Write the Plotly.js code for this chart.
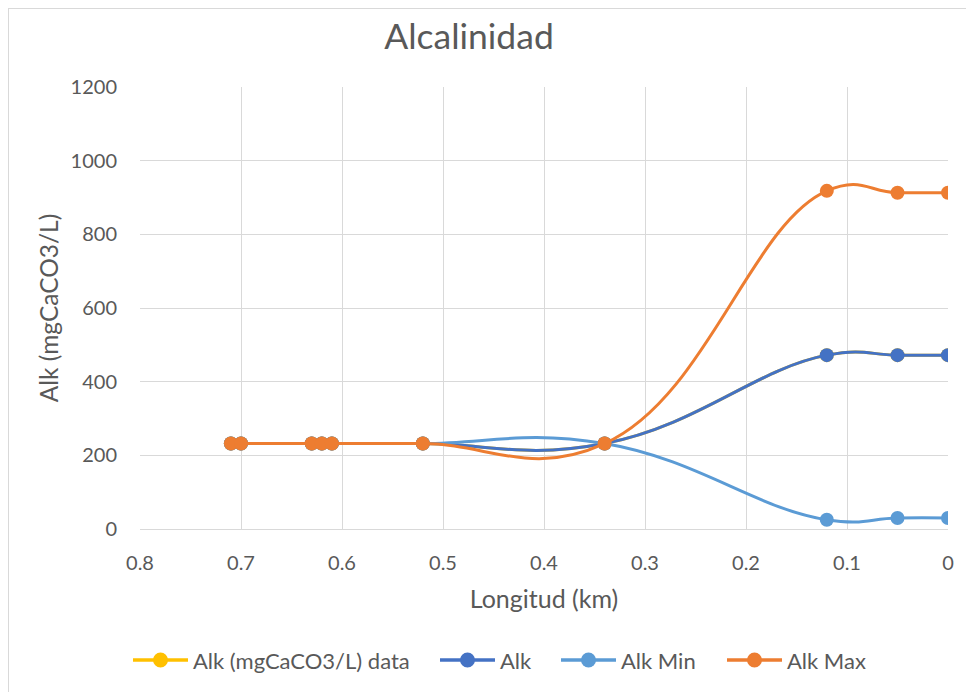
<!DOCTYPE html>
<html>
<head>
<meta charset="utf-8">
<script src="https://cdn.plot.ly/plotly-3.0.1.min.js"></script>
<style>
  html, body { margin: 0; padding: 0; background: #ffffff; overflow: hidden; }
  #frame { position: absolute; left: 8px; top: 8px; width: 1200px; height: 1200px;
           border: 1px solid #d9d9d9; box-sizing: border-box; }
  #chart { position: absolute; left: 0; top: 0; width: 966px; height: 692px; }
</style>
</head>
<body>
<div id="frame"></div>
<div id="chart"></div>
<script>
// Distance along the stream (km) and alkalinity (mg CaCO3/L)
const longitud = [0.71, 0.70, 0.63, 0.62, 0.61, 0.52, 0.34, 0.12, 0.05, 0.0];
const alkData  = [232, 232, 232, 232, 232, 232, 232, 472, 472, 472];
const alk      = [232, 232, 232, 232, 232, 232, 232, 472, 472, 472];
const alkMin   = [232, 232, 232, 232, 232, 232, 232, 25, 30, 30];
const alkMax   = [232, 232, 232, 232, 232, 232, 232, 918, 913, 913];

const seriesNames  = ['Alk (mgCaCO3/L) data', 'Alk', 'Alk Min', 'Alk Max'];
const seriesValues = [alkData, alk, alkMin, alkMax];
const seriesColors = ['#FFC000', '#4472C4', '#5B9BD5', '#ED7D31'];

const FONT = 'Lato, "Open Sans", sans-serif';
const TEXT = '#595959';
const GRID = '#d9d9d9';

// Plot area in pixels (margins below) used to place the bottom key
const W = 966, H = 692;
const M = { l: 140, r: 18, t: 87, b: 163 };
const PW = W - M.l - M.r, PH = H - M.t - M.b;
const px = v => (v - M.l) / PW;           // pixel x -> paper x
const py = v => (H - M.b - v) / PH;       // pixel y -> paper y

const traces = seriesNames.map((name, i) => ({
  type: 'scatter',
  mode: 'lines+markers',
  name: name,
  x: longitud,
  y: seriesValues[i],
  line: { color: seriesColors[i], width: 3, shape: 'spline', smoothing: 1.3 },
  marker: { color: seriesColors[i], size: 14 },
  showlegend: false
}));

// Bottom key: long line sample with a dot in the middle, then the series name
const keyStart = [133, 440, 561, 727];
const keyY = 660, keyLen = 55, keyR = 7.5;
const shapes = [];
const annotations = [];
seriesNames.forEach((name, i) => {
  const x0 = keyStart[i], xc = x0 + keyLen / 2;
  shapes.push({
    type: 'line', xref: 'paper', yref: 'paper',
    x0: px(x0), x1: px(x0 + keyLen), y0: py(keyY), y1: py(keyY),
    line: { color: seriesColors[i], width: 3.5 }
  });
  shapes.push({
    type: 'circle', xref: 'paper', yref: 'paper',
    x0: px(xc - keyR), x1: px(xc + keyR), y0: py(keyY + keyR), y1: py(keyY - keyR),
    fillcolor: seriesColors[i], line: { width: 0 }
  });
  annotations.push({
    text: name, xref: 'paper', yref: 'paper',
    x: px(x0 + keyLen + 3), y: py(keyY), xanchor: 'left', yanchor: 'middle',
    showarrow: false, font: { family: FONT, size: 22, color: TEXT }
  });
});

const layout = {
  width: W,
  height: H,
  paper_bgcolor: 'rgba(0,0,0,0)',
  plot_bgcolor: '#ffffff',
  margin: M,
  font: { family: FONT, color: TEXT, size: 20 },
  title: {
    text: 'Alcalinidad',
    font: { family: FONT, size: 35.5, color: TEXT },
    x: 469 / W, xref: 'container', xanchor: 'center',
    y: 1 - 37 / H, yref: 'container', yanchor: 'middle'
  },
  xaxis: {
    range: [0.8, 0],
    tickvals: [0.8, 0.7, 0.6, 0.5, 0.4, 0.3, 0.2, 0.1, 0],
    ticktext: ['0.8', '0.7', '0.6', '0.5', '0.4', '0.3', '0.2', '0.1', '0'],
    showgrid: true, gridcolor: GRID, gridwidth: 1,
    zeroline: false,
    showline: true, linecolor: GRID, linewidth: 1, mirror: false,
    ticks: '', ticklabelstandoff: 16,
    tickfont: { family: FONT, size: 20, color: TEXT },
    title: { text: 'Longitud (km)', font: { family: FONT, size: 25, color: TEXT }, standoff: 17 }
  },
  yaxis: {
    range: [0, 1200],
    tickvals: [0, 200, 400, 600, 800, 1000, 1200],
    showgrid: true, gridcolor: GRID, gridwidth: 1,
    zeroline: false,
    ticks: '', ticklabelstandoff: 22,
    tickfont: { family: FONT, size: 20, color: TEXT },
    title: { text: 'Alk (mgCaCO3/L)', font: { family: FONT, size: 24.5, color: TEXT }, standoff: 5 }
  },
  showlegend: false,
  shapes: shapes,
  annotations: annotations
};

Plotly.newPlot('chart', traces, layout, { staticPlot: true, displayModeBar: false });
</script>
</body>
</html>
